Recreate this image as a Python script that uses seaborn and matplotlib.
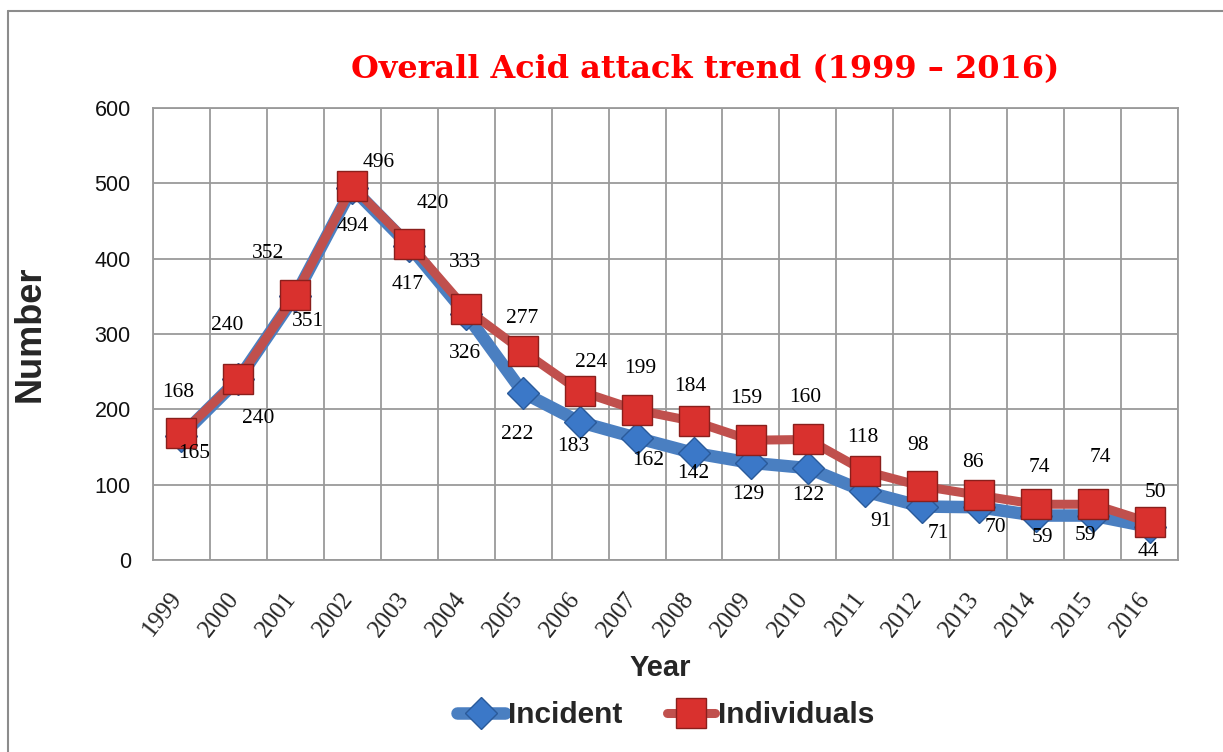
import matplotlib
matplotlib.use('Agg')
import matplotlib.pyplot as plt
from matplotlib.lines import Line2D
from matplotlib.ticker import MultipleLocator, FixedLocator
import seaborn as sns
import numpy as np

# ── Data ──────────────────────────────────────────────────
years       = ['1999', '2000', '2001', '2002', '2003', '2004', '2005', '2006', '2007',
               '2008', '2009', '2010', '2011', '2012', '2013', '2014', '2015', '2016']
incident    = [165, 240, 351, 494, 417, 326, 222, 183, 162, 142, 129, 122, 91, 71, 70, 59, 59, 44]
individuals = [168, 240, 352, 496, 420, 333, 277, 224, 199, 184, 159, 160, 118, 98, 86, 74, 74, 50]

# label offsets in pixels (dx, dy) relative to each point
inc_dx = [13, 20, 13, 0, -2, -1, -6, -7, 11, -1, -3, 0, 16, 17, 17, 7, -7, -1]
inc_dy = [-18, -39, -26, -39, -39, -39, -42, -24, -23, -20, -32, -27, -30, -27, -20, -22, -20, -25]
ind_dx = [-3, -11, -27, 26, 24, -1, -1, 11, 3, -4, -5, -3, -2, -4, -6, 4, 8, 6]
ind_dy = [41, 54, 41, 24, 40, 47, 33, 29, 42, 35, 42, 42, 34, 41, 33, 37, 47, 30]

BLUE, BLUE_EDGE = '#4a7fc1', '#2a5a9a'
RED, RED_EDGE   = '#c0504d', '#8a1f1c'
RED_FACE        = '#d9312e'
GRID            = '#9a9a9a'
SANS            = ['Liberation Sans', 'DejaVu Sans']

sns.set_style('white')
plt.rcParams['font.family'] = ['Liberation Serif', 'DejaVu Serif']

W, H = 1223, 752
fig = plt.figure(figsize=(W / 100, H / 100), dpi=100)
ax = fig.add_axes([153 / W, (H - 560) / H, (1178 - 153) / W, (560 - 108) / H])

x = np.arange(len(years))
sns.lineplot(x=x, y=incident, ax=ax, color=BLUE, linewidth=9, marker='D',
             markersize=16, markerfacecolor='#3b78c8', markeredgecolor=BLUE_EDGE,
             markeredgewidth=1, label='Incident', zorder=3)
sns.lineplot(x=x, y=individuals, ax=ax, color=RED, linewidth=6.5, marker='s',
             markersize=21, markerfacecolor=RED_FACE, markeredgecolor=RED_EDGE,
             markeredgewidth=1, label='Individuals', zorder=4)

# data labels
for i in range(len(years)):
    ax.annotate(str(incident[i]), (x[i], incident[i]), xytext=(inc_dx[i], inc_dy[i]),
                textcoords='offset pixels', ha='center', va='center',
                fontsize=15.5, color='black', zorder=6)
    ax.annotate(str(individuals[i]), (x[i], individuals[i]), xytext=(ind_dx[i], ind_dy[i]),
                textcoords='offset pixels', ha='center', va='center',
                fontsize=15.5, color='black', zorder=6)

# axes / grid
ax.set_xlim(-0.5, len(years) - 0.5)
ax.set_ylim(0, 600)
ax.yaxis.set_major_locator(MultipleLocator(100))
# major ticks are invisible, nudged left so the rotated labels sit like Excel's
ax.set_xticks(x - 0.22)
ax.set_xticklabels(years, rotation=52, ha='right', rotation_mode='anchor', fontsize=18)
ax.xaxis.set_minor_locator(FixedLocator(np.arange(-0.5, len(years), 1)))
ax.tick_params(axis='x', which='major', length=0, pad=20)
ax.tick_params(axis='x', which='minor', length=7, color=GRID, width=1.3, direction='out')
ax.tick_params(axis='y', which='major', length=7, color=GRID, width=1.3, direction='out',
               labelsize=15.5, pad=9)
for lab in ax.get_yticklabels():
    lab.set_family(SANS)
    lab.set_color('#111111')
ax.grid(True, axis='y', which='major', color=GRID, linewidth=1.3)
ax.grid(True, axis='x', which='minor', color=GRID, linewidth=1.3)
ax.set_axisbelow(True)
for s in ax.spines.values():
    s.set_color(GRID)
    s.set_linewidth(1.3)

ax.set_xlabel('Year', fontsize=21, fontweight='bold', family=SANS)
ax.xaxis.set_label_coords((660 - 153) / 1025, (560 - 654) / 452)
ax.set_ylabel('Number', fontsize=26, fontweight='bold', family=SANS)
ax.yaxis.set_label_coords((48 - 153) / 1025, 0.5)

fig.text(705 / W, 1 - 70 / H, 'Overall Acid attack trend (1999 – 2016)', color='red',
         fontsize=23, fontweight='bold', family=['DejaVu Serif'], ha='center', va='center')

leg = ax.legend(loc='center', bbox_to_anchor=(666 / W, 1 - 715 / H),
                bbox_transform=fig.transFigure, ncol=2, frameon=False,
                handlelength=1.6, columnspacing=1.5, handletextpad=0.1,
                prop={'family': SANS, 'weight': 'bold', 'size': 21.5})

# outer frame
fig.add_artist(Line2D([8 / W, 1.0], [1 - 11 / H, 1 - 11 / H], transform=fig.transFigure,
                      color='#8c8c8c', linewidth=1.5))
fig.add_artist(Line2D([8 / W, 8 / W], [0.0, 1 - 11 / H], transform=fig.transFigure,
                      color='#8c8c8c', linewidth=1.5))

fig.savefig('out.png', dpi=100)
